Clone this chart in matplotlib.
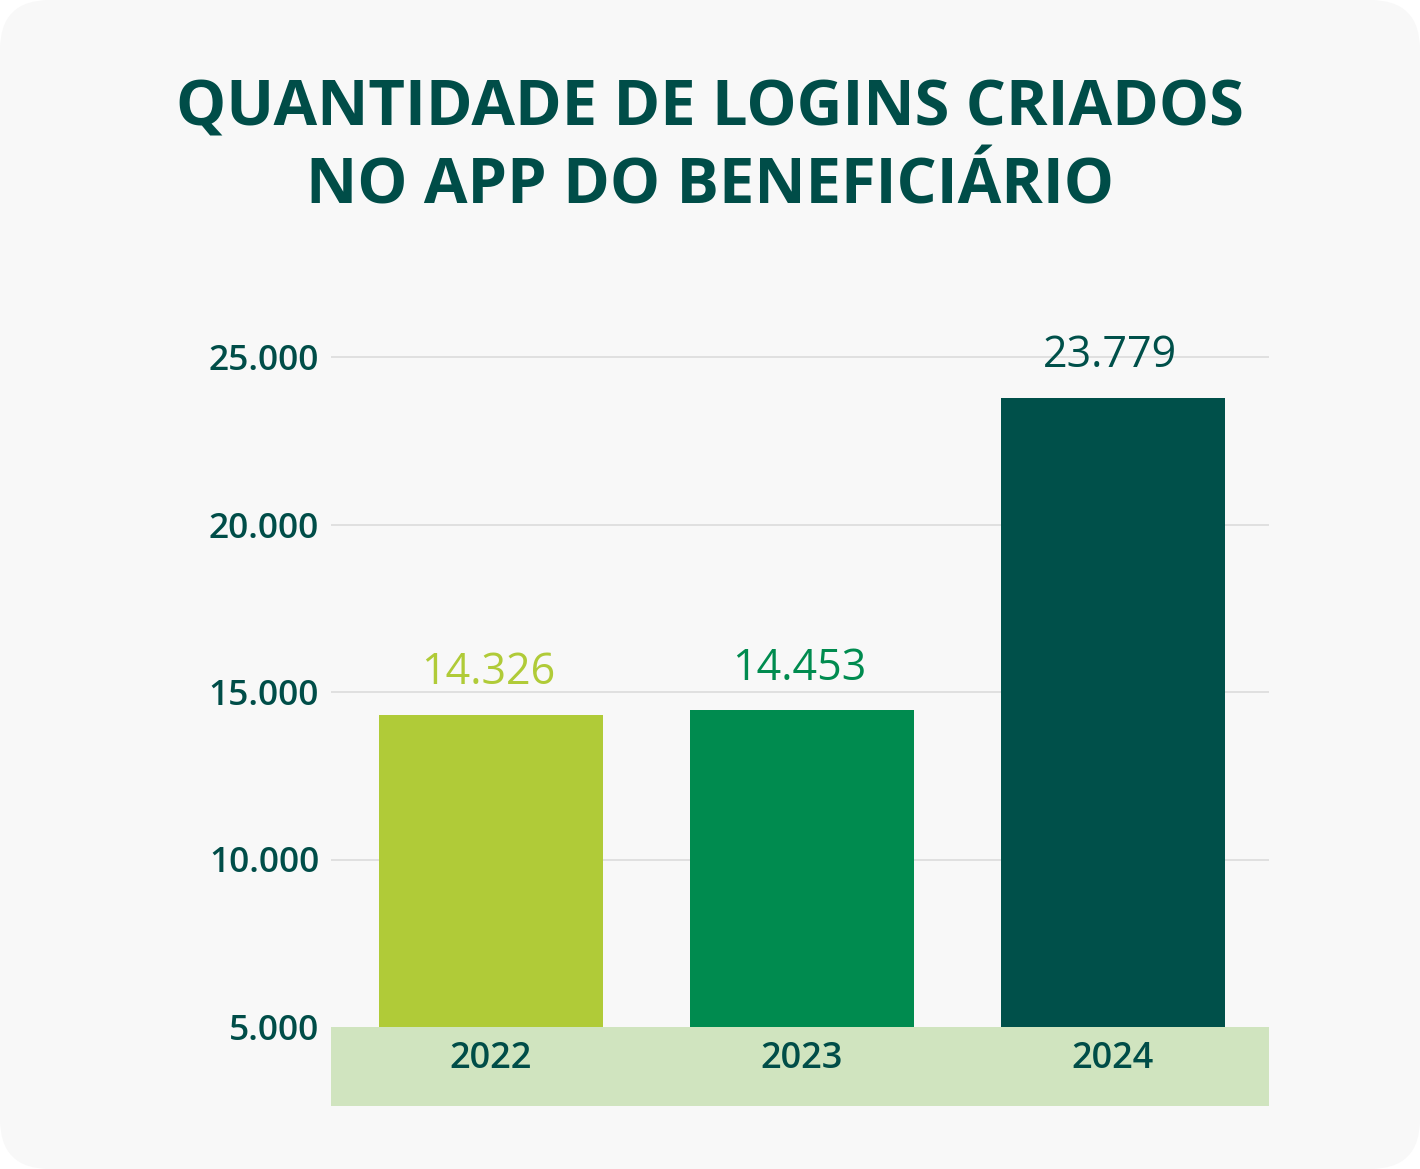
import matplotlib
matplotlib.use("Agg")
import matplotlib.pyplot as plt
from matplotlib.patches import FancyBboxPatch, Rectangle
import matplotlib.transforms as mtransforms

years = ["2022", "2023", "2024"]
values = [14326, 14453, 23779]
value_labels = ["14.326", "14.453", "23.779"]
bar_colors = ["#b0cb38", "#008b4f", "#00504a"]
y_ticks = [5000, 10000, 15000, 20000, 25000]
y_tick_labels = ["5.000", "10.000", "15.000", "20.000", "25.000"]
title_text = "QUANTIDADE DE LOGINS CRIADOS\nNO APP DO BENEFICIÁRIO"

DARK = "#004d48"
FONT = ["Open Sans", "DejaVu Sans"]
plt.rcParams["font.family"] = FONT

W, H = 1420, 1169
fig = plt.figure(figsize=(W / 100, H / 100), dpi=100)
fig.patch.set_facecolor("white")

# rounded background panel
bg = FancyBboxPatch((0, 0), 1, 1, boxstyle="round,pad=0,rounding_size=0.035",
                    transform=fig.transFigure, facecolor="#f8f8f8",
                    edgecolor="none", mutation_aspect=W / H, zorder=-2)
fig.patches.append(bg)

# axes: x from 331 to 1269 px, y from 1027 (5000) upward
ax_left, ax_right = 331 / W, 1269 / W
px_per_unit = 167.5 / 5000
y_top_val = 26000
ax_bottom_px = 1027
ax_top_px = 1027 - (y_top_val - 5000) * px_per_unit
ax = fig.add_axes([ax_left, 1 - ax_bottom_px / H, ax_right - ax_left,
                   (ax_bottom_px - ax_top_px) / H])
ax.set_zorder(2)
ax.set_facecolor("none")
ax.set_xlim(-0.514, 2.502)
ax.set_ylim(5000, y_top_val)

x = range(len(years))
ax.bar(x, [v - 5000 for v in values], bottom=5000, width=0.72,
       color=bar_colors, zorder=3)

for xi, v, lab, c in zip(x, values, value_labels, bar_colors):
    ax.annotate(lab, (xi, v), xytext=(-2, 22), textcoords="offset points",
                ha="center", va="baseline", fontsize=31, color=c,
                fontweight="normal", zorder=4)

# gridlines
for t in y_ticks[1:]:
    ax.axhline(t, color="#dcdcdc", lw=1.2, zorder=1)

ax.set_yticks(y_ticks)
ax.set_yticklabels(y_tick_labels)
ax.tick_params(axis="y", length=0, pad=8.5, labelsize=25.5, labelcolor=DARK)
for lbl in ax.get_yticklabels():
    lbl.set_fontweight("semibold")
ax.set_xticks([])
for s in ax.spines.values():
    s.set_visible(False)

# band below the axis
band = Rectangle((ax_left, 1 - 1106 / H), ax_right - ax_left, 79 / H,
                 transform=fig.transFigure, facecolor="#d0e4bf",
                 edgecolor="none", zorder=1)
fig.patches.append(band)
trans = mtransforms.blended_transform_factory(ax.transData, fig.transFigure)
for xi, yr in zip(x, years):
    ax.text(xi, 1 - 1059 / H, yr, transform=trans, ha="center", va="center",
            fontsize=26, fontweight="semibold", color=DARK, clip_on=False)

fig.text(0.5, 1 - 148 / H, title_text, ha="center", va="center",
         fontsize=45.5, fontweight="bold", color=DARK, linespacing=1.32)

fig.savefig("out.png", dpi=100, facecolor=fig.get_facecolor())
